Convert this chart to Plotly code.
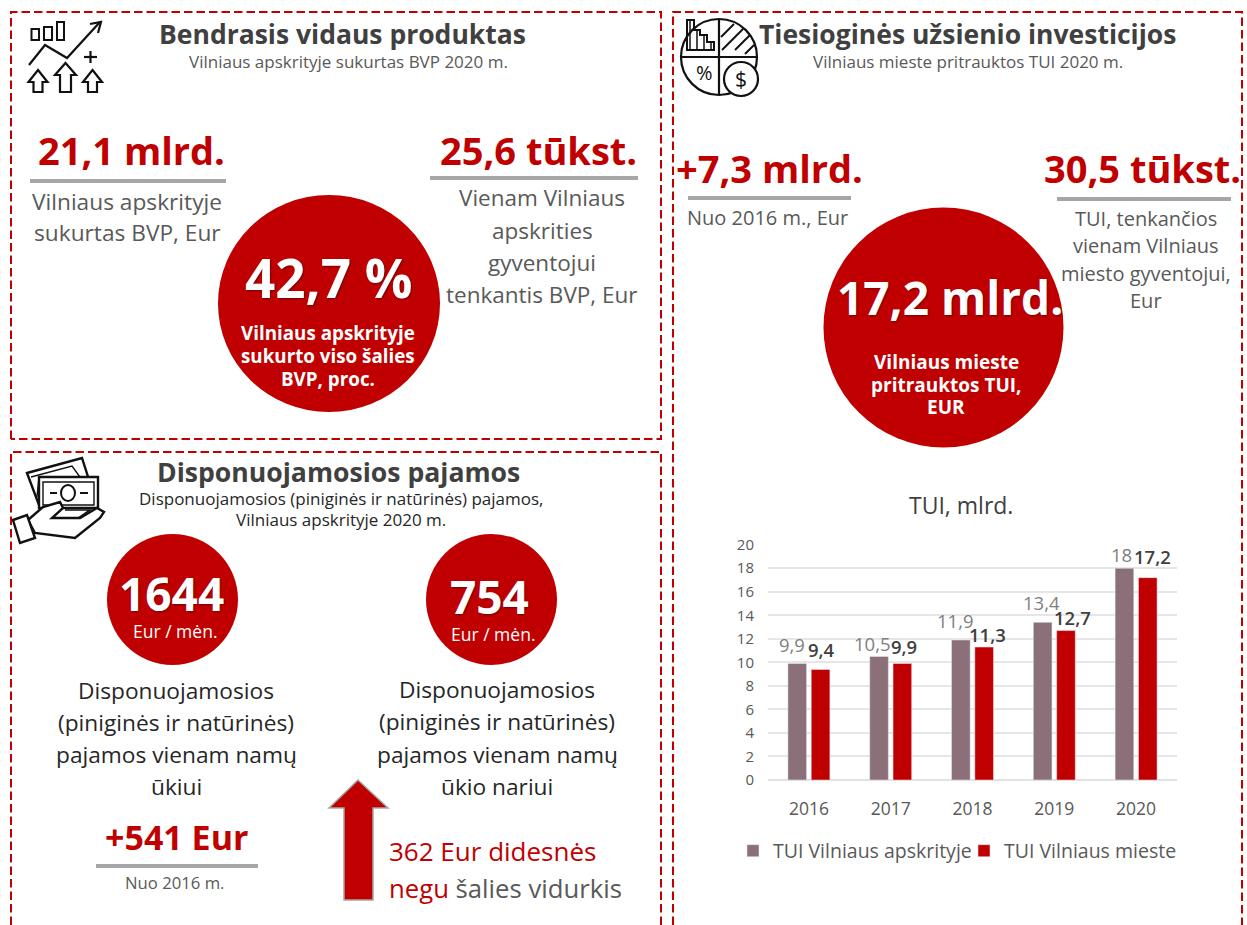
import plotly.graph_objects as go

W, H = 1247, 925
years = ["2016", "2017", "2018", "2019", "2020"]
apskritis = [9.9, 10.5, 11.9, 13.4, 18]
miestas = [9.4, 9.9, 11.3, 12.7, 17.2]
apskritis_labels = ["9,9", "10,5", "11,9", "13,4", "18"]
miestas_labels = ["9,4", "9,9", "11,3", "12,7", "17,2"]

RED = "#C00000"
MAUVE = "#8B6F79"
GRAY = "#595959"
DARK = "#404040"
INK = "#262626"
RULE = "#A6A6A6"
FONT = "Open Sans"
SHADOW = "1px 1px 2px rgba(0,0,0,0.4)"


def X(p):
    return p / W


def Y(p):
    return 1 - p / H


shapes = []
annotations = []


def path(points, close=False, fill=None, color="#111111", width=2):
    d = "M " + " L ".join(f"{X(a):.5f},{Y(b):.5f}" for a, b in points) + (" Z" if close else "")
    shapes.append(dict(type="path", xref="paper", yref="paper", path=d,
                       line=dict(color=color, width=width),
                       fillcolor=fill if fill else "rgba(0,0,0,0)"))


def dashed(points):
    d = "M " + " L ".join(f"{X(a):.5f},{Y(b):.5f}" for a, b in points)
    shapes.append(dict(type="path", xref="paper", yref="paper", path=d,
                       line=dict(color=RED, width=2, dash="8.5px,4px")))


def circle(cx, cy, rx, ry=None, fill=RED, line=None, width=0):
    ry = rx if ry is None else ry
    shapes.append(dict(type="circle", xref="paper", yref="paper",
                       x0=X(cx - rx), x1=X(cx + rx), y0=Y(cy + ry), y1=Y(cy - ry),
                       fillcolor=fill, line=dict(color=line or fill, width=width)))


def text(s, x, y, size, color=GRAY, bold=False, anchor="center", font=FONT, shadow=None):
    f = dict(family=font, size=size, color=color)
    if shadow:
        f["shadow"] = shadow
    annotations.append(dict(text=f"<b>{s}</b>" if bold else s, x=X(x), y=Y(y), xref="paper", yref="paper",
                            xanchor=anchor, yanchor="middle", showarrow=False, font=f))


def rule(x0, x1, y):
    path([(x0, y), (x1, y)], color=RULE, width=4)


# panels
dashed([(11, 439), (11, 12), (661, 12), (661, 439), (11, 439)])
dashed([(11, 925), (11, 452), (661, 452), (661, 925)])
dashed([(673, 925), (673, 12), (1242, 12), (1242, 925)])

# panel 1
text("Bendrasis vidaus produktas", 342.5, 34, 26.5, DARK, True)
text("Vilniaus apskrityje sukurtas BVP 2020 m.", 348, 62, 17, GRAY)
text("21,1 mlrd.", 131, 150, 38, RED, True)
rule(30, 226, 181)
text("Vilniaus apskrityje", 127, 201, 22.7)
text("sukurtas BVP, Eur", 127, 233, 22.7)
text("25,6 tūkst.", 538, 150, 38, RED, True)
rule(430, 638, 178)
for s, y in zip(["Vienam Vilniaus", "apskrities", "gyventojui", "tenkantis BVP, Eur"], [197, 230, 262, 294]):
    text(s, 542, y, 22.5)
circle(329, 303.5, 111, 108.5)
text("42,7 %", 329.5, 277, 53, "white", True, shadow=SHADOW)
for s, y in zip(["Vilniaus apskrityje", "sukurto viso šalies", "BVP, proc."], [333, 356, 379]):
    text(s, 328, y, 18.8, "white", True)

# panel 2
text("Disponuojamosios pajamos", 338.5, 472, 26.6, DARK, True)
text("Disponuojamosios (piniginės ir natūrinės) pajamos,", 341.5, 498, 17, INK)
text("Vilniaus apskrityje 2020 m.", 341.5, 519, 17, INK)
circle(172.5, 599.5, 65.5)
circle(491.5, 599.5, 65.5)
text("1644", 171.5, 593, 46, "white", True, shadow=SHADOW)
text("Eur / mėn.", 175, 631, 17.5, "white")
text("754", 489.5, 596, 46, "white", True, shadow=SHADOW)
text("Eur / mėn.", 493, 634, 17.5, "white")
for s, y in zip(["Disponuojamosios", "(piniginės ir natūrinės)", "pajamos vienam namų", "ūkiui"], [690, 722, 754, 786]):
    text(s, 176, y, 22.7, INK)
for s, y in zip(["Disponuojamosios", "(piniginės ir natūrinės)", "pajamos vienam namų", "ūkio nariui"], [689, 721, 754, 786]):
    text(s, 497, y, 22.7, INK)
text("+541 Eur", 176, 837, 34, RED, True)
rule(96, 258, 866)
text("Nuo 2016 m.", 175, 882, 16.7)
path([(358, 780), (388, 808), (373, 808), (373, 900), (344, 900), (344, 808), (329, 808)],
     close=True, fill=RED, color=RULE, width=1.5)
text("362 Eur didesnės", 387, 851, 26, RED, anchor="left")
text(f'<span style="color:{RED}">negu</span> šalies vidurkis', 387, 888, 25.7, GRAY, anchor="left")

# panel 3
text("Tiesioginės užsienio investicijos", 967, 34, 26.5, DARK, True)
text("Vilniaus mieste pritrauktos TUI 2020 m.", 967.5, 62, 17, GRAY)
text("+7,3 mlrd.", 769, 168, 38, RED, True)
rule(688, 851, 198)
text("Nuo 2016 m., Eur", 767, 217, 20)
text("30,5 tūkst.", 1142.5, 168, 38, RED, True)
rule(1057, 1231, 199)
for s, y in zip(["TUI, tenkančios", "vienam Vilniaus", "miesto gyventojui,", "Eur"], [218, 246, 273, 300]):
    text(s, 1146, y, 20)
circle(943.5, 327.5, 120)
text("17,2 mlrd.", 950, 297, 46, "white", True, shadow=SHADOW)
for s, y in zip(["Vilniaus mieste", "pritrauktos TUI,", "EUR"], [362, 385, 407]):
    text(s, 946, y, 19, "white", True)
text("TUI, mlrd.", 961, 505, 23, DARK)

# icon 1: growth
for x0, x1, y0 in [(31.5, 39, 29), (44, 52, 27), (57, 64, 22)]:
    path([(x0, y0), (x1, y0), (x1, 40), (x0, 40)], close=True)
path([(29, 65), (45, 45), (67, 58), (100, 22)], width=2.2)
path([(90, 24), (101, 22), (98, 33)], width=2.2)
path([(84, 57), (97, 57)], width=2.2)
path([(90.5, 51), (90.5, 63)], width=2.2)
for cx, tip, hw, sw, hb in [(38, 70, 9.5, 4.5, 82), (65.5, 63, 10.5, 5.5, 75), (92.5, 70, 9.5, 4.5, 82)]:
    path([(cx, tip), (cx + hw, hb), (cx + sw, hb), (cx + sw, 92), (cx - sw, 92), (cx - sw, hb), (cx - hw, hb)],
         close=True, width=2.2)

# icon 2: pie
circle(719, 57, 38, fill="rgba(0,0,0,0)", line="#111111", width=2.2)
path([(719, 19), (719, 95)], width=2.2)
path([(681, 57), (757, 57)], width=2.2)
path([(687, 50), (687, 20), (694, 20), (694, 30), (700, 30), (700, 35), (707, 35), (707, 42), (714, 42), (714, 50)],
     close=True, width=2)
path([(690, 50), (690, 20)], width=1.5)
path([(697, 50), (697, 30)], width=1.5)
path([(704, 50), (704, 35)], width=1.5)
path([(711, 50), (711, 42)], width=1.5)
for a, b in [((721, 37), (734, 24)), ((722, 50), (743, 29)), ((735, 50), (750, 35)), ((745, 54), (754, 45))]:
    path([a, b], width=2)
text("%", 704, 73, 20, "#111111", False)
circle(741, 79, 17, fill="white", line="#111111", width=2.2)
text("$", 741, 79, 21, "#111111")

# icon 3: money in a hand
path([(27, 473), (82, 458), (97, 505), (39, 505)], close=True, fill="white", width=2.4)
path([(31, 477), (72, 466), (80, 477), (39, 477), (37, 497)], width=1.4)
path([(39, 477), (98, 477), (98, 508), (39, 508)], close=True, fill="white", width=2.4)
path([(43, 482), (94, 482), (94, 505), (43, 505)], close=True, width=1.4)
circle(68, 493, 7, 8, fill="white", line="#111111", width=2)
path([(50, 493), (57, 493)], width=2)
path([(80, 493), (88, 493)], width=2)
path([(28, 520), (43, 507), (60, 502), (63, 508), (52, 518), (80, 518), (97, 508), (104, 512), (100, 518),
      (75, 538), (35, 533)], close=True, fill="white", width=2.4)
path([(65, 510), (90, 510), (78, 518), (52, 518)], width=1.5)
path([(13, 520), (27, 515), (35, 538), (20, 543)], close=True, fill="white", width=2.4)

# bar value labels sit on the data coordinates, nudged as in the original
A_DX, A_DY = [-16.5, -18.5, -17, -12.5, -15], [19, 13, 20, 20, 14]
M_DX, M_DY = [12.5, 13.5, 15, 18, 16.5], [20, 17, 13, 13, 21]
for i, (v, s, dx, dy) in enumerate(zip(apskritis, apskritis_labels, A_DX, A_DY)):
    annotations.append(dict(x=i, y=v, xref="x", yref="y", text=s, showarrow=False, xanchor="center", yanchor="middle",
                            xshift=dx, yshift=dy, font=dict(family=FONT, size=18.5, color="#7F7F7F")))
for i, (v, s, dx, dy) in enumerate(zip(miestas, miestas_labels, M_DX, M_DY)):
    annotations.append(dict(x=i, y=v, xref="x", yref="y", text=s, showarrow=False, xanchor="center", yanchor="middle",
                            xshift=dx, yshift=dy, font=dict(family=FONT, size=18.5, color=DARK, weight=600)))

fig = go.Figure()
fig.add_bar(name="TUI Vilniaus apskrityje", x=years, y=apskritis, marker_color=MAUVE)
fig.add_bar(name="TUI Vilniaus mieste", x=years, y=miestas, marker_color=RED)
fig.update_layout(
    width=W, height=H, margin=dict(l=0, r=0, t=0, b=0, autoexpand=False), paper_bgcolor="white", plot_bgcolor="white",
    barmode="group", bargap=0.43, bargroupgap=0.2, separators=", ",
    font=dict(family=FONT, color=GRAY), shapes=shapes, annotations=annotations,
    xaxis=dict(type="category", categoryorder="array", categoryarray=years, range=[-0.5, 4.5],
               domain=[X(768), X(1177)], showline=False, ticks="", showgrid=False,
               tickfont=dict(size=17.5, color=GRAY), ticklabelstandoff=16),
    yaxis=dict(domain=[Y(780), Y(544.7)], range=[0, 20], dtick=2, gridcolor="#E6E6E6", gridwidth=1.5,
               zeroline=True, zerolinecolor="#E2E2E2", zerolinewidth=1.5, tickfont=dict(size=15, color=GRAY),
               ticks="", ticklabelstandoff=13, automargin=False),
    legend=dict(orientation="h", x=X(964), xanchor="center", y=Y(851), yanchor="middle",
                font=dict(size=19.5, color=GRAY), bgcolor="rgba(0,0,0,0)", itemwidth=30,
                entrywidth=186, entrywidthmode="pixels"),
)
fig.write_html("out.html", config=dict(displayModeBar=False),
               post_script="document.body.style.margin='0';document.body.style.overflow='hidden';")
